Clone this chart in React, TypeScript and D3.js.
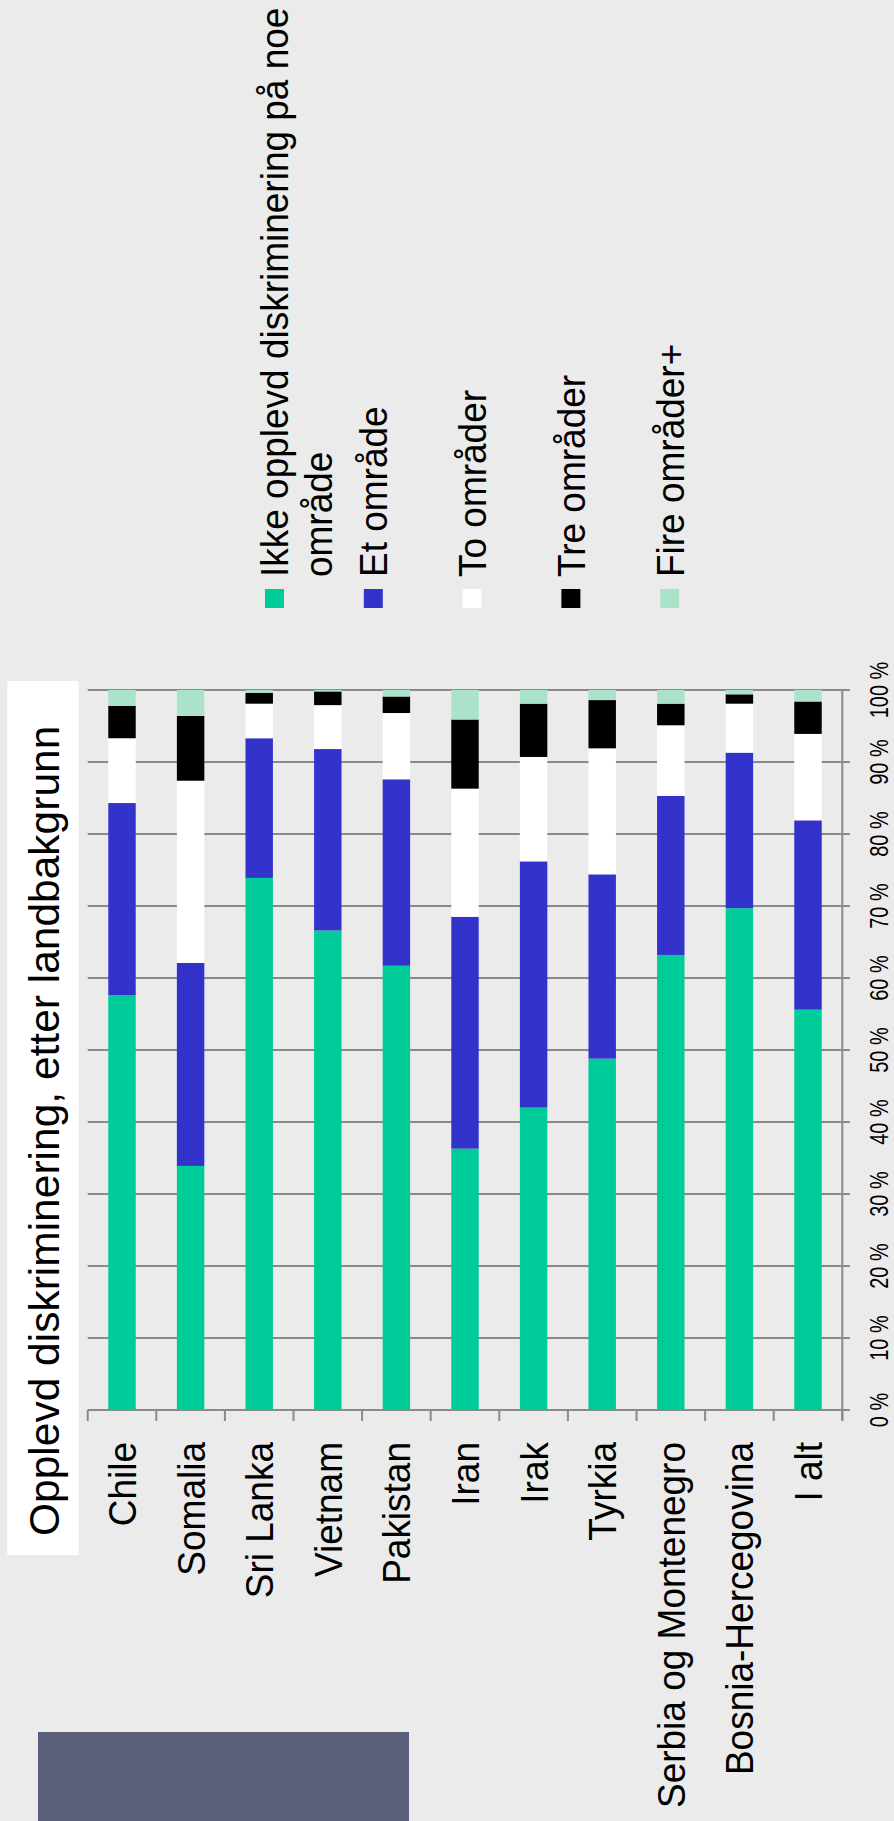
import React from "react";
import * as d3 from "d3";

const categories = ["Chile", "Somalia", "Sri Lanka", "Vietnam", "Pakistan", "Iran", "Irak", "Tyrkia", "Serbia og Montenegro", "Bosnia-Hercegovina", "I alt"];
const seriesNames = ["Ikke opplevd diskriminering på noe område", "Et område", "To områder", "Tre områder", "Fire områder+"];
const legendLines = [["Ikke opplevd diskriminering på noe", "område"], ["Et område"], ["To områder"], ["Tre områder"], ["Fire områder+"]];
const ikke = [57.6, 33.9, 73.9, 66.6, 61.7, 36.3, 42.0, 48.8, 63.2, 69.7, 55.6];
const et = [26.7, 28.2, 19.4, 25.2, 25.9, 32.2, 34.2, 25.6, 22.1, 21.6, 26.3];
const to = [9.0, 25.3, 4.8, 6.1, 9.2, 17.8, 14.5, 17.5, 9.8, 6.8, 12.0];
const tre = [4.5, 9.0, 1.5, 1.9, 2.3, 9.6, 7.4, 6.7, 3.0, 1.3, 4.5];
const fire = [2.2, 3.6, 0.4, 0.2, 0.9, 4.1, 1.9, 1.4, 1.9, 0.6, 1.6];
const colors = ["#00cc99", "#3333cc", "#ffffff", "#000000", "#aae3c9"];
const valueTicks = [0, 10, 20, 30, 40, 50, 60, 70, 80, 90, 100];
const title = "Opplevd diskriminering, etter landbakgrunn";

const FONT = "'Liberation Sans', Arial, sans-serif";

export default function App() {
  const W = 894, H = 1821;
  const seriesData = [ikke, et, to, tre, fire];
  const rows = categories.map((c, i) => {
    const r: any = { cat: c };
    seriesNames.forEach((s, k) => (r[s] = seriesData[k][i]));
    return r;
  });
  const stacked = d3.stack().keys(seriesNames)(rows as any);
  const x = d3.scaleBand().domain(categories).range([87.7, 842.3]).paddingInner(0.6).paddingOuter(0.3);
  const y = d3.scaleLinear().domain([0, 100]).range([1410, 690]);
  const step = x.step();
  const tickXs = d3.range(categories.length + 1).map((i) => 87.7 + i * step);

  return (
    <div style={{ position: "absolute", left: 0, top: 0, width: W, height: H }}>
      <svg width={W} height={H} style={{ display: "block" }} fontFamily={FONT}>
        <rect x={0} y={0} width={W} height={H} fill="#ebebeb" />
        {valueTicks.map((t) => (
          <line key={"g" + t} x1={87.7} x2={850} y1={y(t)} y2={y(t)} stroke="#8a8a8a" strokeWidth={2} />
        ))}
        <line x1={842.3} x2={842.3} y1={y(100)} y2={1421} stroke="#8a8a8a" strokeWidth={2} />
        {tickXs.map((tx, i) => (
          <line key={"t" + i} x1={tx} x2={tx} y1={1410} y2={1421} stroke="#8a8a8a" strokeWidth={2} />
        ))}
        {stacked.map((layer, k) => (
          <g key={"s" + k} fill={colors[k]}>
            {layer.map((d: any, i: number) => (
              <rect key={i} x={x(categories[i])} width={x.bandwidth()} y={y(d[1])} height={y(d[0]) - y(d[1])} />
            ))}
          </g>
        ))}
        {valueTicks.map((t) => (
          <text key={"v" + t} transform={`translate(888,${y(t)}) rotate(-90) scale(1,1.25)`} textAnchor="middle" fontSize={20} fill="#000">
            {d3.format("d")(t) + " %"}
          </text>
        ))}
        {categories.map((c) => (
          <text key={"c" + c} transform={`translate(${(x(c) as number) + x.bandwidth() / 2 + 14},1442) rotate(-90) scale(1,1.05)`} textAnchor="end" fontSize={37} fill="#000">
            {c}
          </text>
        ))}
        <rect x={7.3} y={681} width={71.4} height={874} fill="#ffffff" />
        <text transform="translate(59.3,1536) rotate(-90)" textAnchor="start" fontSize={42.5} fill="#000">
          {title}
        </text>
        {seriesNames.map((s, k) => (
          <g key={"l" + k}>
            <rect x={265 + k * 98.8} y={589} width={19} height={19} fill={colors[k]} />
            <text transform={`translate(${288.3 + k * 98.8},577) rotate(-90) scale(1,1.07)`} textAnchor="start" fontSize={37} fill="#000">
              {legendLines[k].map((ln, j) => (
                <tspan key={j} x={0} dy={j === 0 ? 0 : 40.6}>{ln}</tspan>
              ))}
            </text>
          </g>
        ))}
        <rect x={38} y={1732} width={371} height={89} fill="#5a5e78" />
      </svg>
    </div>
  );
}
